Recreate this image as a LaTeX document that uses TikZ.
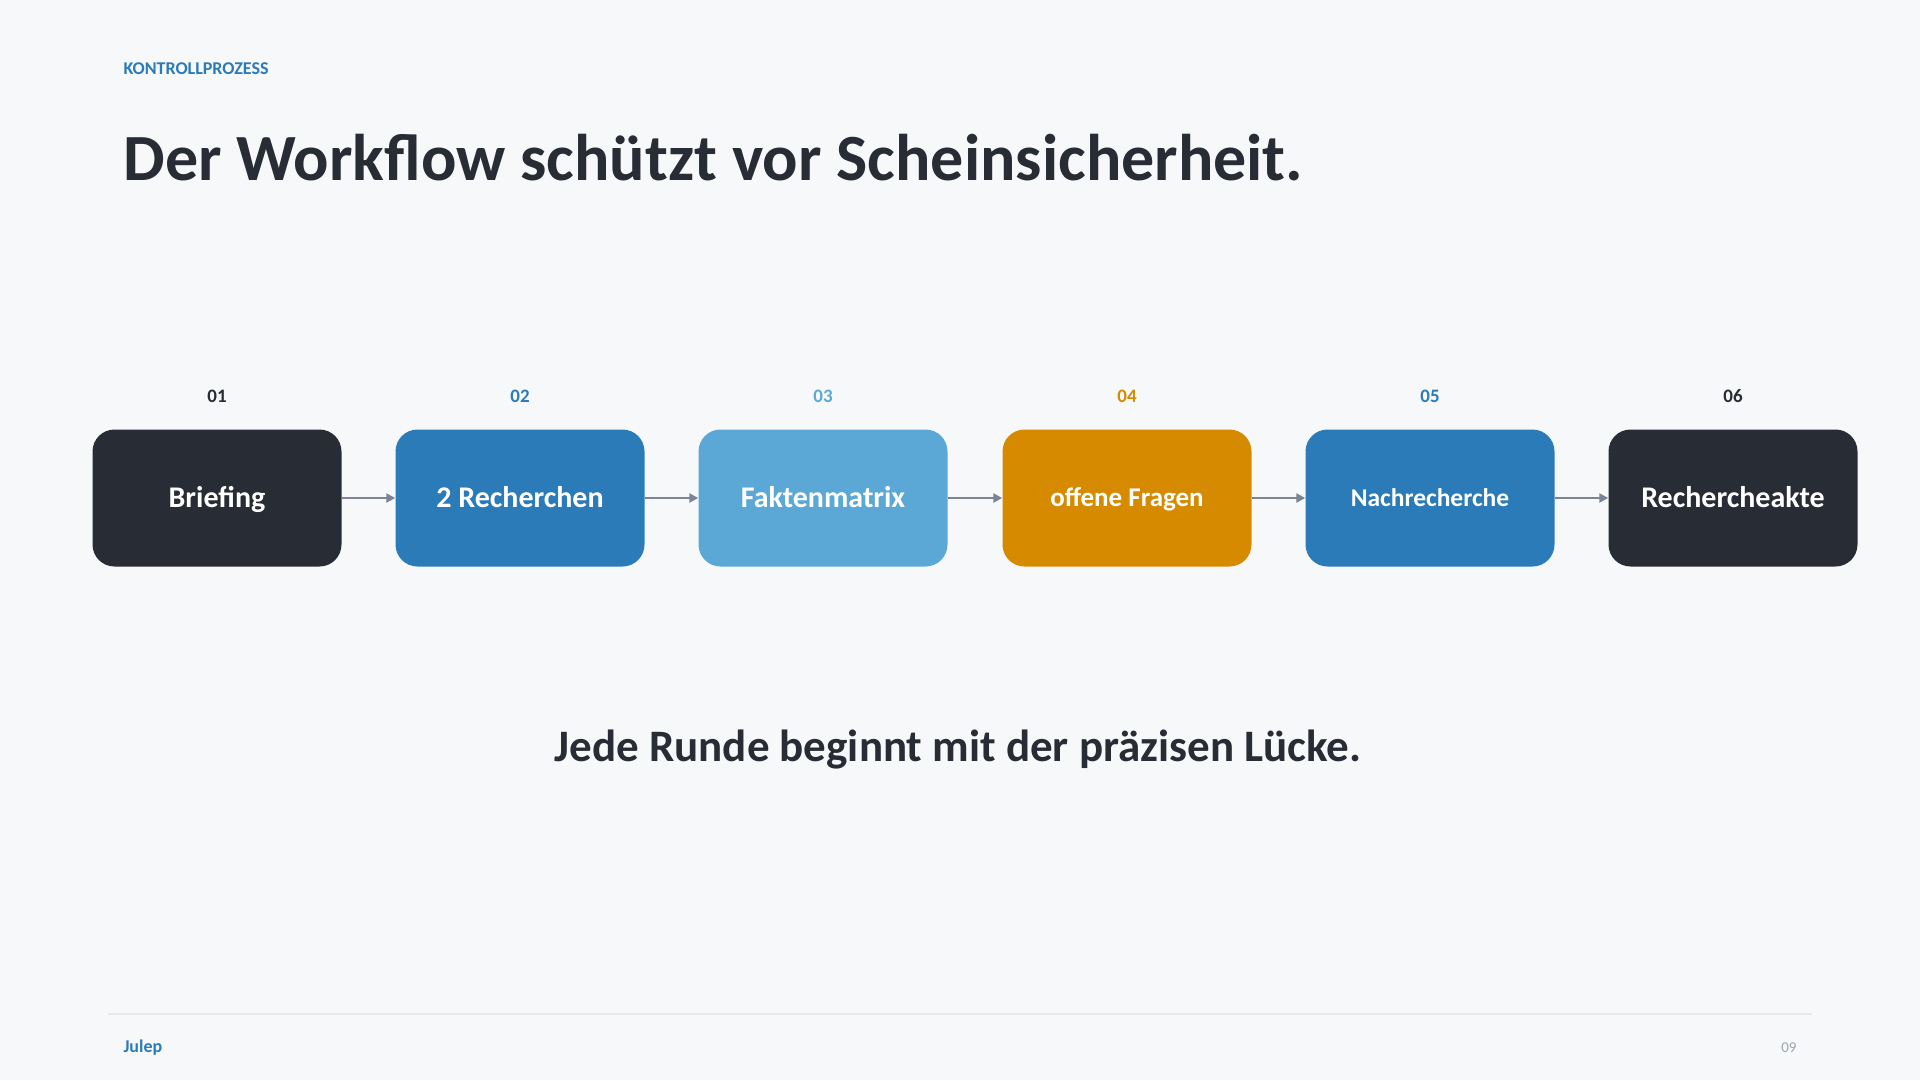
\documentclass[tikz,border=0pt]{standalone}
\usepackage{fontspec}
\setmainfont{Carlito}
\usetikzlibrary{arrows.meta}

\definecolor{bgpage}{HTML}{F7F8FA}
\definecolor{ink}{HTML}{282C35}
\definecolor{blue}{HTML}{2B7BB8}
\definecolor{lightblue}{HTML}{5BA8D6}
\definecolor{orange}{HTML}{D68A00}
\definecolor{arrowgray}{HTML}{7B8494}
\definecolor{rulegray}{HTML}{E6E8EC}
\definecolor{pagegray}{HTML}{9CA3AF}

\begin{document}
\begin{tikzpicture}
        [x=1pt, y=-1pt,
        stepbox/.style={rectangle, rounded corners=22pt, minimum width=249pt, minimum height=137pt,
            inner sep=0pt, text=white, text height=19pt, text depth=0pt, font=\bfseries\fontsize{30}{32}\selectfont},
        num/.style={anchor=base, font=\bfseries\fontsize{19}{21}\selectfont},
        link/.style={arrowgray, line width=2.5pt, -{Triangle[length=9pt, width=9pt]}}]

        % page
        \fill[bgpage] (0,0) rectangle (1920,1080);
        \useasboundingbox (0,0) rectangle (1920,1080);

        % header
        \node[anchor=base west, text=blue, font=\bfseries\fontsize{18}{20}\selectfont] (kicker) at (120,74) {KONTROLLPROZESS};
        \node[anchor=base west, text=ink, font=\bfseries\fontsize{66}{76}\selectfont] (title) at (120,180) {Der Workflow schützt vor Scheinsicherheit.};

        % steps
        \node[stepbox, fill=ink] (b1) at (217,498) {Briefing};
        \node[stepbox, fill=blue] (b2) at (520,498) {2 Recherchen};
        \node[stepbox, fill=lightblue] (b3) at (823,498) {Faktenmatrix};
        \node[stepbox, fill=orange, text height=17.5pt, font=\bfseries\fontsize{27}{29}\selectfont] (b4) at (1127,498) {offene Fragen};
        \node[stepbox, fill=blue, text height=16.5pt, font=\bfseries\fontsize{25.5}{27}\selectfont] (b5) at (1430,498) {Nachrecherche};
        \node[stepbox, fill=ink] (b6) at (1733,498) {Rechercheakte};

        % step numbers
        \node[num, text=ink] (n1) at (217,402) {01};
        \node[num, text=blue] (n2) at (520,402) {02};
        \node[num, text=lightblue] (n3) at (823,402) {03};
        \node[num, text=orange] (n4) at (1127,402) {04};
        \node[num, text=blue] (n5) at (1430,402) {05};
        \node[num, text=ink] (n6) at (1733,402) {06};

        % arrows between steps
        \draw[link] (b1) -- (b2);
        \draw[link] (b2) -- (b3);
        \draw[link] (b3) -- (b4);
        \draw[link] (b4) -- (b5);
        \draw[link] (b5) -- (b6);

        % closing line
        \node[anchor=base, text=ink, font=\bfseries\fontsize{45}{52}\selectfont] (claim) at (958,761) {Jede Runde beginnt mit der präzisen Lücke.};

        % footer
        \coordinate (fl) at (108,1014);
        \coordinate (fr) at (1812,1014);
        \draw[rulegray, line width=2.5pt] (fl) -- (fr);
        \node[anchor=base west, text=blue, font=\bfseries\fontsize{18}{20}\selectfont] (brand) at (120,1052) {Julep};
        \node[anchor=base east, text=pagegray, font=\fontsize{15}{17}\selectfont] (page) at (1800,1052) {09};

    \end{tikzpicture}
\end{document}
